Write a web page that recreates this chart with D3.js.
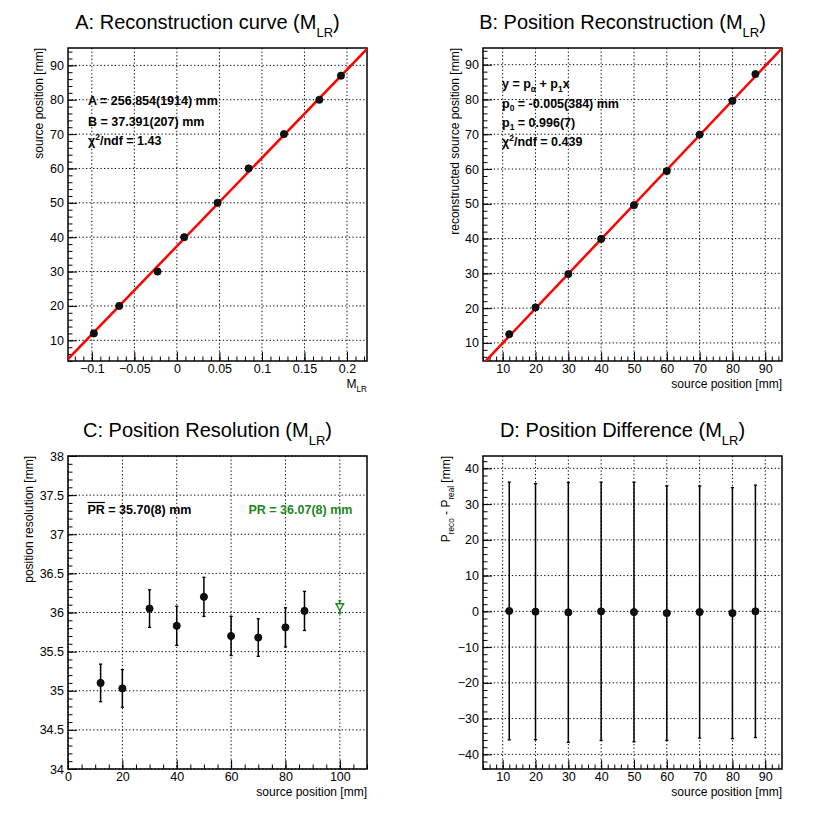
<!DOCTYPE html>
<html>
<head>
<meta charset="utf-8">
<script src="https://cdn.jsdelivr.net/npm/d3@7"></script>
<style>
  body { margin: 0; background: #fff; }
  text { font-family: "Liberation Sans", Arial, Helvetica, sans-serif; }
</style>
</head>
<body>
<div id="chart"></div>
<script>
// ---- data ----
const sourcePos = [12, 20, 30, 40, 50, 60, 70, 80, 87];

// A: reconstruction curve, M_LR per source position
const mlrValues = [-0.0976, -0.0678, -0.0227, 0.0086, 0.0478, 0.0843, 0.1259, 0.1675, 0.1929];
const fitA = 256.854;
const fitB = 37.391;

// B: reconstructed position
const recoPos = [12.5, 20.2, 29.8, 39.9, 49.6, 59.4, 69.9, 79.6, 87.3];
const fitP0 = -0.005;
const fitP1 = 0.996;

// C: position resolution
const resolution = [35.10, 35.03, 36.05, 35.83, 36.20, 35.70, 35.68, 35.81, 36.02];
const resolutionErr = [0.24, 0.24, 0.24, 0.25, 0.25, 0.25, 0.24, 0.25, 0.25];
const combinedPR = { x: 100, y: 36.07, err: 0.08 };

// D: position difference
const posDiff = [0.1, -0.1, -0.3, 0.0, -0.2, -0.5, -0.2, -0.5, 0.0];
const posDiffErr = [36.05, 35.8, 36.35, 36.1, 36.3, 35.6, 35.25, 35.1, 35.3];

// tick labels
const aTicksX = [-0.1, -0.05, 0, 0.05, 0.1, 0.15, 0.2];
const aTicksY = [10, 20, 30, 40, 50, 60, 70, 80, 90];
const bTicksX = [10, 20, 30, 40, 50, 60, 70, 80, 90];
const bTicksY = [10, 20, 30, 40, 50, 60, 70, 80, 90];
const cTicksX = [0, 20, 40, 60, 80, 100];
const cTicksY = [34, 34.5, 35, 35.5, 36, 36.5, 37, 37.5, 38];
const dTicksX = [10, 20, 30, 40, 50, 60, 70, 80, 90];
const dTicksY = [-40, -30, -20, -10, 0, 10, 20, 30, 40];

const W = 830, H = 816;
const L = 68, R = 367, T = 48, B = 361;
const green = "#1c861c";
const fmt = d3.format("~g");

const svg = d3.select("#chart").append("svg")
    .attr("width", W)
    .attr("height", H);

let clipCount = 0;

function makePanel(ox, oy, xDom, yDom) {
    const g = svg.append("g").attr("transform", `translate(${ox},${oy})`);
    const x = d3.scaleLinear().domain(xDom).range([L, R]);
    const y = d3.scaleLinear().domain(yDom).range([B, T]);
    const id = "clip" + (clipCount++);
    g.append("clipPath").attr("id", id)
        .append("rect").attr("x", L).attr("y", T).attr("width", R - L).attr("height", B - T);
    return { g, x, y, clip: `url(#${id})` };
}

function minorTicks(dom, step) {
    const out = [];
    const n0 = Math.ceil(dom[0] / step - 1e-9), n1 = Math.floor(dom[1] / step + 1e-9);
    for (let i = n0; i <= n1; i++) out.push(+(i * step).toFixed(6));
    return out;
}

function drawGrid(p, xt, yt) {
    const grid = p.g.append("g")
        .attr("stroke", "#000")
        .attr("stroke-width", 1)
        .attr("stroke-dasharray", "1.3,2.3");
    xt.forEach(v => {
        grid.append("line").attr("x1", p.x(v)).attr("x2", p.x(v)).attr("y1", T).attr("y2", B);
    });
    yt.forEach(v => {
        grid.append("line").attr("x1", L).attr("x2", R).attr("y1", p.y(v)).attr("y2", p.y(v));
    });
}

function styleAxis(sel) {
    sel.attr("font-size", 12.5)
        .attr("font-family", '"Liberation Sans", Arial, sans-serif');
    sel.select(".domain").remove();
    sel.selectAll("line").attr("stroke", "#000").attr("stroke-width", 1);
    sel.selectAll("text").attr("fill", "#000");
}

function drawAxes(p, xt, xStep, yt, yStep) {
    const xa = p.g.append("g").attr("transform", `translate(0,${B})`)
        .call(d3.axisBottom(p.x).tickValues(xt).tickSizeInner(-9).tickSizeOuter(0).tickPadding(3).tickFormat(fmt));
    styleAxis(xa);
    const xm = p.g.append("g").attr("transform", `translate(0,${B})`)
        .call(d3.axisBottom(p.x).tickValues(minorTicks(p.x.domain(), xStep)).tickSizeInner(-4.5).tickSizeOuter(0).tickFormat(""));
    styleAxis(xm);
    const ya = p.g.append("g").attr("transform", `translate(${L},0)`)
        .call(d3.axisLeft(p.y).tickValues(yt).tickSizeInner(-9).tickSizeOuter(0).tickPadding(4).tickFormat(fmt));
    styleAxis(ya);
    const ym = p.g.append("g").attr("transform", `translate(${L},0)`)
        .call(d3.axisLeft(p.y).tickValues(minorTicks(p.y.domain(), yStep)).tickSizeInner(-4.5).tickSizeOuter(0).tickFormat(""));
    styleAxis(ym);
    p.g.append("rect")
        .attr("x", L).attr("y", T).attr("width", R - L).attr("height", B - T)
        .attr("fill", "none").attr("stroke", "#000").attr("stroke-width", 1.5);
}

// text with sub/superscripts: parts = [[text, "sub"|"sup"|undefined], ...]
function richText(parent, x, y, parts, size, attrs) {
    const t = parent.append("text").attr("x", x).attr("y", y).attr("font-size", size);
    Object.entries(attrs || {}).forEach(([k, v]) => t.attr(k, v));
    let shift = 0;
    parts.forEach(([s, kind]) => {
        const target = kind === "sub" ? size * 0.3 : kind === "sup" ? -size * 0.4 : 0;
        const ts = t.append("tspan").attr("dy", target - shift).text(s);
        if (kind) ts.attr("font-size", size * 0.68);
        shift = target;
    });
    return t;
}

function title(p, label) {
    const t = p.g.append("text").attr("x", 207.5).attr("y", 29)
        .attr("text-anchor", "middle").attr("font-size", 20);
    t.append("tspan").text(label + " (M");
    t.append("tspan").attr("dy", 8).attr("font-size", 13).text("LR");
    t.append("tspan").attr("dy", -8).text(")");
}

function yTitle(p, xPos, parts) {
    richText(p.g, 0, 0, parts, 12, {
        "text-anchor": "end",
        transform: `translate(${xPos},${T}) rotate(-90)`
    });
}

function xTitle(p, parts) {
    richText(p.g, R, 388, parts, 12, { "text-anchor": "end" });
}

function drawPoints(p, xs, ys, errs) {
    const pts = p.g.append("g");
    xs.forEach((xv, i) => {
        const cx = p.x(xv), cy = p.y(ys[i]);
        if (errs) {
            const y1 = p.y(ys[i] - errs[i]), y2 = p.y(ys[i] + errs[i]);
            pts.append("line").attr("x1", cx).attr("x2", cx).attr("y1", y1).attr("y2", y2)
                .attr("stroke", "#000").attr("stroke-width", 1.5);
            [y1, y2].forEach(yy => pts.append("line")
                .attr("x1", cx - 1.6).attr("x2", cx + 1.6).attr("y1", yy).attr("y2", yy)
                .attr("stroke", "#000").attr("stroke-width", 1.3));
        }
        pts.append("circle").attr("cx", cx).attr("cy", cy).attr("r", 3.6)
            .attr("fill", "#111").attr("stroke", "#000").attr("stroke-width", 0.8);
    });
}

function fitLine(p, f) {
    const d = p.x.domain();
    p.g.append("path")
        .attr("clip-path", p.clip)
        .attr("d", d3.line().x(v => p.x(v)).y(v => p.y(f(v)))([d[0], d[1]]))
        .attr("stroke", "#ff0000").attr("stroke-width", 2.5).attr("fill", "none");
}

// ---- A: Reconstruction curve ----
const pA = makePanel(0, 0, [-0.128, 0.2235], [3.98, 95.05]);
drawGrid(pA, aTicksX, aTicksY);
drawAxes(pA, aTicksX, 0.01, aTicksY, 2);
fitLine(pA, m => fitA * m + fitB);
drawPoints(pA, mlrValues, sourcePos, null);
title(pA, "A: Reconstruction curve");
yTitle(pA, 42.5, [["source position [mm]"]]);
xTitle(pA, [["M"], ["LR", "sub"]]);
const statsA = pA.g.append("g").attr("font-weight", "bold");
richText(statsA, 88, 105, [["A = 256.854(1914) mm"]], 12.5);
richText(statsA, 88, 125.5, [["B = 37.391(207) mm"]], 12.5);
richText(statsA, 88, 145, [["χ"], ["2", "sup"], ["/ndf = 1.43"]], 12.5);

// ---- B: Position reconstruction ----
const pB = makePanel(415, 0, [4.0, 95.1], [4.8, 94.8]);
drawGrid(pB, bTicksX, bTicksY);
drawAxes(pB, bTicksX, 2, bTicksY, 2);
fitLine(pB, v => fitP0 + fitP1 * v);
drawPoints(pB, sourcePos, recoPos, null);
title(pB, "B: Position Reconstruction");
yTitle(pB, 43.5, [["reconstructed source position [mm]"]]);
xTitle(pB, [["source position [mm]"]]);
const statsB = pB.g.append("g").attr("font-weight", "bold");
richText(statsB, 87, 88, [["y = p"], ["α", "sub"], [" + p"], ["1", "sub"], ["x"]], 12.5);
richText(statsB, 87, 107.5, [["p"], ["0", "sub"], [" = -0.005(384) mm"]], 12.5);
richText(statsB, 87, 126.5, [["p"], ["1", "sub"], [" = 0.996(7)"]], 12.5);
richText(statsB, 87, 146, [["χ"], ["2", "sup"], ["/ndf = 0.439"]], 12.5);

// ---- C: Position resolution ----
const pC = makePanel(0, 408, [0, 110], [34, 38]);
drawGrid(pC, cTicksX, cTicksY);
drawAxes(pC, cTicksX, 5, cTicksY, 0.1);
drawPoints(pC, sourcePos, resolution, resolutionErr);
{
    const cx = pC.x(combinedPR.x), cy = pC.y(combinedPR.y);
    const y1 = pC.y(combinedPR.y - combinedPR.err), y2 = pC.y(combinedPR.y + combinedPR.err);
    pC.g.append("line").attr("x1", cx).attr("x2", cx).attr("y1", y1).attr("y2", y2)
        .attr("stroke", green).attr("stroke-width", 1.5);
    [y1, y2].forEach(yy => pC.g.append("line")
        .attr("x1", cx - 1.6).attr("x2", cx + 1.6).attr("y1", yy).attr("y2", yy)
        .attr("stroke", green).attr("stroke-width", 1.3));
    pC.g.append("path")
        .attr("d", `M${cx - 3.8},${cy - 3.3}L${cx + 3.8},${cy - 3.3}L${cx},${cy + 3.6}Z`)
        .attr("fill", "#fff").attr("stroke", green).attr("stroke-width", 1.4);
}
title(pC, "C: Position Resolution");
yTitle(pC, 33, [["position resolution [mm]"]]);
xTitle(pC, [["source position [mm]"]]);
{
    const st = pC.g.append("g").attr("font-weight", "bold");
    const pr = st.append("text").attr("x", 87.5).attr("y", 106).attr("font-size", 12.5).text("PR");
    const w = pr.node().getComputedTextLength();
    st.append("line").attr("x1", 87.5).attr("x2", 87.5 + w).attr("y1", 94.5).attr("y2", 94.5)
        .attr("stroke", "#000").attr("stroke-width", 1.2);
    st.append("text").attr("x", 87.5 + w).attr("y", 106).attr("font-size", 12.5)
        .text(" = " + d3.format(".2f")(35.70) + "(8) mm").attr("xml:space", "preserve")
        .style("white-space", "pre");
    st.append("text").attr("x", 248.5).attr("y", 106).attr("font-size", 12.5)
        .attr("fill", green).text("PR = 36.07(8) mm");
}

// ---- D: Position difference ----
const pD = makePanel(415, 408, [4.0, 95.1], [-44.1, 43.45]);
drawGrid(pD, dTicksX, dTicksY);
drawAxes(pD, dTicksX, 2, dTicksY, 2);
drawPoints(pD, sourcePos, posDiff, posDiffErr);
title(pD, "D: Position Difference");
yTitle(pD, 35, [["P"], ["reco", "sub"], [" - P"], ["real", "sub"], [" [mm]"]]);
xTitle(pD, [["source position [mm]"]]);
</script>
</body>
</html>
